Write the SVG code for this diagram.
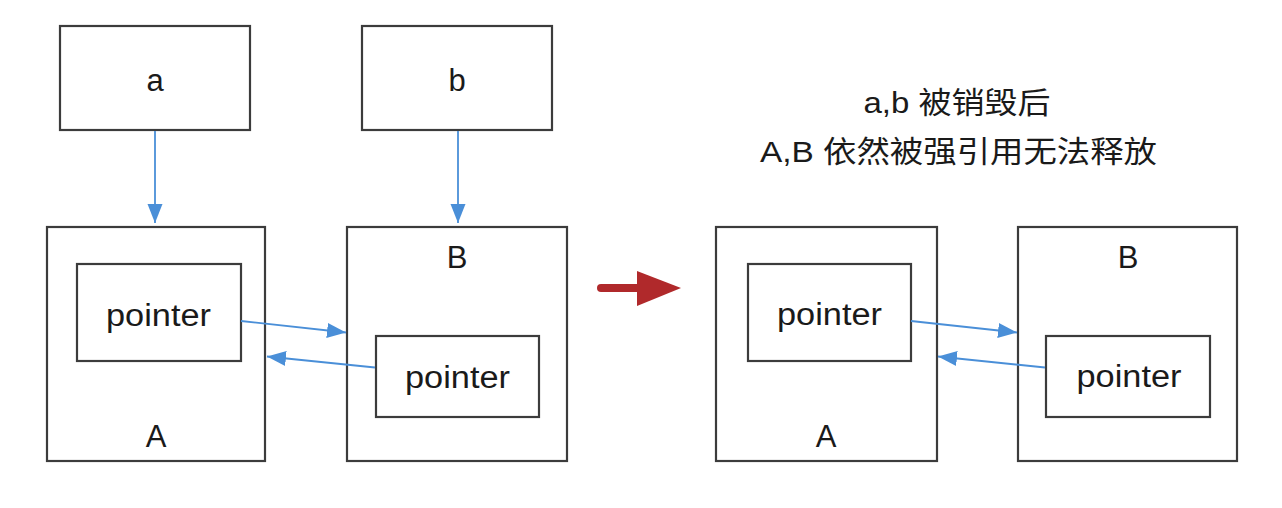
<svg xmlns="http://www.w3.org/2000/svg" width="1282" height="508" viewBox="0 0 1282 508">
<defs>
<style>
.box{fill:#fff;stroke:#3c3c3c;stroke-width:2.2}
.lbl{font-family:"Liberation Sans",Arial,sans-serif;font-size:31px;fill:#1a1a1a;text-anchor:middle}
.ptr{font-family:"Liberation Sans",Arial,sans-serif;font-size:31px;fill:#1a1a1a;text-anchor:middle}
.cap{font-family:"Liberation Sans","Noto Sans CJK SC",sans-serif;font-size:30px;fill:#1a1a1a;text-anchor:middle}
.conn{stroke:#4a8fd8;stroke-width:1.8;fill:none;marker-end:url(#ah)}
</style>
<marker id="ah" markerUnits="userSpaceOnUse" markerWidth="20" markerHeight="16" refX="19" refY="7.5" orient="auto">
<path d="M0,0 L19,7.5 L0,15 z" fill="#4a8fd8"/>
</marker>
</defs>
<rect width="1282" height="508" fill="#fff"/>

<g id="node-a"><rect class="box" x="60" y="26" width="190" height="104"/><text class="lbl" x="155" y="91">a</text></g>
<g id="node-b"><rect class="box" x="362" y="26" width="190" height="104"/><text class="lbl" x="457" y="91">b</text></g>

<g id="node-A"><rect class="box" x="47" y="227" width="218" height="234"/><text class="lbl" x="156" y="447">A</text></g>
<g id="node-A-pointer"><rect class="box" x="77" y="264" width="164" height="97"/><text class="ptr" x="158.5" y="326" textLength="105" lengthAdjust="spacingAndGlyphs">pointer</text></g>
<g id="node-B"><rect class="box" x="347" y="227" width="220" height="234"/><text class="lbl" x="457" y="268">B</text></g>
<g id="node-B-pointer"><rect class="box" x="376" y="336" width="163" height="81"/><text class="ptr" x="457.5" y="388" textLength="105" lengthAdjust="spacingAndGlyphs">pointer</text></g>

<g id="node-A2"><rect class="box" x="716" y="227" width="221" height="234"/><text class="lbl" x="826" y="447">A</text></g>
<g id="node-A2-pointer"><rect class="box" x="748" y="264" width="163" height="97"/><text class="ptr" x="829.5" y="325" textLength="105" lengthAdjust="spacingAndGlyphs">pointer</text></g>
<g id="node-B2"><rect class="box" x="1018" y="227" width="219" height="234"/><text class="lbl" x="1128" y="268">B</text></g>
<g id="node-B2-pointer"><rect class="box" x="1046" y="336" width="164" height="81"/><text class="ptr" x="1129" y="387" textLength="105" lengthAdjust="spacingAndGlyphs">pointer</text></g>

<g id="caption">
<text class="cap" x="957" y="113" textLength="187" lengthAdjust="spacingAndGlyphs">a,b 被销毁后</text>
<text class="cap" x="958.5" y="162" textLength="397" lengthAdjust="spacingAndGlyphs">A,B 依然被强引用无法释放</text>
</g>

<g id="connectors">
<line class="conn" x1="155" y1="131" x2="155" y2="223"/>
<line class="conn" x1="458" y1="131" x2="458" y2="223"/>
<line class="conn" x1="241" y1="321" x2="346" y2="332.5"/>
<line class="conn" x1="375" y1="367.5" x2="267" y2="356.5"/>
<line class="conn" x1="911" y1="321" x2="1017" y2="332.5"/>
<line class="conn" x1="1045" y1="367.5" x2="938" y2="356.5"/>
<g id="transition-arrow">
<line x1="601" y1="288" x2="640" y2="288" stroke="#b0292b" stroke-width="8" stroke-linecap="round"/>
<path d="M637,271 L681,288 L637,306 z" fill="#b0292b"/>
</g>
</g>
</svg>
